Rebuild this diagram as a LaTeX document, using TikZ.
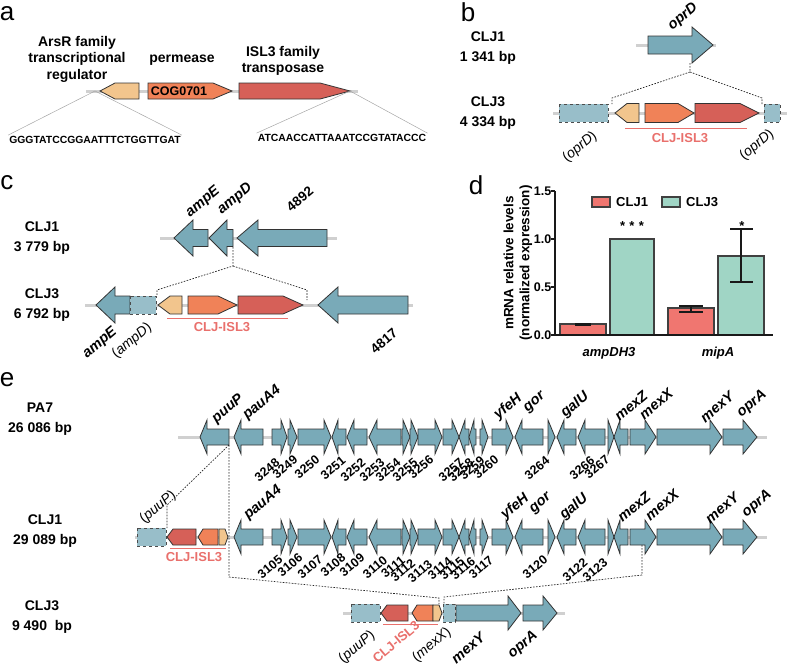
\documentclass[tikz,border=0pt]{standalone}
\usepackage{fontspec}
\setmainfont{Liberation Sans}
\definecolor{genebl}{RGB}{121,170,184}
\definecolor{fragbl}{RGB}{152,190,201}
\definecolor{arsrc}{RGB}{242,197,141}
\definecolor{permc}{RGB}{240,130,88}
\definecolor{tnpc}{RGB}{214,96,88}
\definecolor{islc}{RGB}{233,112,108}
\definecolor{barred}{RGB}{240,118,112}
\definecolor{bargreen}{RGB}{160,213,197}
\definecolor{bbgray}{RGB}{208,208,208}

% gene arrow: style, tail x, head base x, tip x, y, body half, head half
\newcommand{\genearrow}[7]{%
  \draw[#1] ({#2},{#5-#6}) -- ({#3},{#5-#6}) -- ({#3},{#5-#7}) -- ({#4},{#5})
    -- ({#3},{#5+#7}) -- ({#3},{#5+#6}) -- ({#2},{#5+#6}) -- cycle;}

% shared genes of PA7 and CLJ1 (tail/tip/head length)
\def\coregenes{263/234/7, 272/287/6, 288/297/7, 298/331/7, 346/332/6, 367/347/7,
  401/369/8, 402/410/7, 410/418/7, 418/442/7, 443/459/7, 469/459/6, 476/469/5,
  480/488/6, 492/513/7, 543/515/7, 548/555/7, 576/557/7, 605/578/7, 608/614/6,
  628/614/6, 630/656/11, 657/722/12, 723/757/14}

\begin{document}
\begin{tikzpicture}[x=1pt,y=-1pt,
    gene/.style={draw=black!80,fill=genebl,line width=0.8pt,line join=miter},
    arsr/.style={gene,fill=arsrc},
    perm/.style={gene,fill=permc},
    tnp/.style={gene,fill=tnpc},
    frag/.style={draw=black!70,dashed,fill=fragbl,line width=0.6pt},
    backbone/.style={draw=bbgray,line width=3pt},
    link/.style={draw=black!85,line width=0.7pt,dash pattern=on 1.6pt off 1.4pt},
    panel/.style={font=\fontsize{26}{26}\selectfont},
    strain/.style={font=\bfseries\fontsize{14}{19.5}\selectfont,align=center},
    hdr/.style={font=\bfseries\fontsize{14}{16.5}\selectfont,align=center},
    seq/.style={font=\bfseries\fontsize{10.4}{12}\selectfont,inner sep=1pt},
    glab/.style={font=\bfseries\itshape\fontsize{14.5}{14.5}\selectfont,rotate=40},
    numlab/.style={font=\bfseries\fontsize{12.5}{12.5}\selectfont,rotate=40},
    fraglab/.style={font=\fontsize{14}{14}\selectfont,rotate=40},
    isl/.style={text=islc,font=\bfseries\fontsize{13}{13}\selectfont},
    islline/.style={draw=islc,line width=0.8pt},
    axisline/.style={draw=black!90,line width=1.6pt},
    barbox/.style={draw=black!75,line width=1.2pt},
    errbar/.style={draw=black!90,line width=1.2pt},
    ticklab/.style={font=\bfseries\fontsize{12.5}{12.5}\selectfont,anchor=east,inner sep=0.5pt},
    ylab/.style={font=\bfseries\fontsize{13.5}{16}\selectfont,align=center,rotate=90},
    leg/.style={font=\bfseries\fontsize{13}{13}\selectfont,anchor=west,inner sep=0pt},
    catlab/.style={font=\bfseries\itshape\fontsize{13}{13}\selectfont},
    ]
\useasboundingbox (0,0) rectangle (787,667);

% ---------------- panel a
\node[panel] (pa) at (7,14) {a};
\node[hdr] (arsrlab) at (77,59) {ArsR family\\transcriptional\\regulator};
\node[hdr] (permlab) at (182,60) {permease};
\node[hdr] (tnplab) at (283,61) {ISL3 family\\transposase};
\draw[backbone] (86,91) -- (358,91);
\genearrow{arsr}{139}{115}{100}{91}{8}{8}
\genearrow{perm}{148}{213}{232}{91}{8}{8}
\genearrow{tnp}{239}{320}{350}{91}{8}{8}
\node[font=\bfseries\fontsize{12.5}{12.5}\selectfont] (cog) at (179,91) {COG0701};
\node[seq] (seqL) at (95,140) {GGGTATCCGGAATTTCTGGTTGAT};
\node[seq] (seqR) at (342,138) {ATCAACCATTAAATCCGTATACCC};
\coordinate (aL) at (95,91);
\coordinate (aR) at (350,91);
\draw[gray!70,line width=0.5pt] (seqL.north west) -- (aL) -- (seqL.north east);
\draw[gray!70,line width=0.5pt] (seqR.north west) -- (aR) -- (seqR.north east);

% ---------------- panel b
\node[panel] (pb) at (468,12) {b};
\node[strain] (b1) at (488,48) {CLJ1\\1 341 bp};
\node[strain] (b3) at (488,113) {CLJ3\\4 334 bp};
\draw[backbone] (636,45) -- (716,45);
\genearrow{gene}{648}{692}{713}{45}{9}{18}
\node[glab] (oprD1) at (683,17) {oprD};
\draw[backbone] (553,113) -- (787,113);
\draw[frag] (559,104) rectangle (608,122);
\genearrow{arsr}{639}{627}{615}{113}{9.5}{9.5}
\genearrow{perm}{645}{678}{694}{113}{9.5}{9.5}
\genearrow{tnp}{695}{740}{759}{113}{9.5}{9.5}
\draw[frag] (764,104) rectangle (780,122);
\draw[islline] (625,128) -- (747,128);
\node[isl] (islb) at (680,138) {CLJ-ISL3};
\node[fraglab] (oprDl) at (580,147) {(\textit{oprD})};
\node[fraglab] (oprDr) at (757,145) {(\textit{oprD})};
\coordinate (bsrc) at (690,63);
\coordinate (bfork) at (690,72);
\coordinate (bl) at (612,98);
\coordinate (bl2) at (612,104);
\coordinate (br) at (762,98);
\coordinate (br2) at (762,104);
\draw[link] (bsrc) -- (bfork) -- (bl) -- (bl2);
\draw[link] (bfork) -- (br) -- (br2);

% ---------------- panel c
\node[panel] (pc) at (7,183) {c};
\node[strain] (c1) at (42,238) {CLJ1\\3 779 bp};
\node[strain] (c3) at (42,305) {CLJ3\\6 792 bp};
\draw[backbone] (160,238) -- (337,238);
\genearrow{gene}{208}{193}{174}{238}{8.5}{18}
\genearrow{gene}{233}{227}{209}{238}{8.5}{18}
\genearrow{gene}{327}{258}{237}{238}{8.5}{18}
\node[glab] (ampE1) at (203,202) {ampE};
\node[glab] (ampD1) at (235,199) {ampD};
\node[glab,font=\bfseries\fontsize{13.5}{13.5}\selectfont] (g4892) at (300,199) {4892};
\draw[backbone] (85,305) -- (413,305);
\genearrow{gene}{130}{115}{96}{305}{9}{18}
\draw[frag] (130,296) rectangle (156,314);
\genearrow{arsr}{182}{170}{158}{305}{9}{9}
\genearrow{perm}{188}{218}{237}{305}{9}{9}
\genearrow{tnp}{238}{283}{303}{305}{9}{9}
\genearrow{gene}{408}{338}{318}{305}{9}{18}
\draw[islline] (167,318) -- (288,318);
\node[isl] (islc3) at (222,327) {CLJ-ISL3};
\node[glab] (ampE3) at (100,343) {ampE};
\node[fraglab] (ampD3) at (132,341) {(\textit{ampD})};
\node[glab,font=\bfseries\fontsize{13.5}{13.5}\selectfont] (g4817) at (384,341) {4817};
\coordinate (csrc) at (233,247);
\coordinate (cfork) at (233,266);
\coordinate (cl) at (157,290);
\coordinate (cl2) at (157,296);
\coordinate (cr) at (307,290);
\coordinate (cr2) at (307,300);
\draw[link] (csrc) -- (cfork) -- (cl) -- (cl2);
\draw[link] (cfork) -- (cr) -- (cr2);

% ---------------- panel d
\node[panel] (pd) at (476,185) {d};
\node[ylab] (ylabel) at (518,263) {mRNA relative levels\\(normalized expression)};
\draw[barbox,fill=barred] (560,335) rectangle (606,324);
\draw[barbox,fill=bargreen] (610,335) rectangle (654,239);
\draw[barbox,fill=barred] (668,335) rectangle (714,308);
\draw[barbox,fill=bargreen] (718,335) rectangle (764,256);
\draw[axisline] (555,191) -- (555,335) -- (773,335);
\foreach \v/\yy in {0.0/335, 0.5/287, 1.0/239, 1.5/191} {
  \draw[axisline] (551,\yy) -- (555,\yy);
  \node[ticklab] (t\yy) at (552,\yy) {\v};
}
\draw[errbar,line width=3pt] (575,324) -- (591,324);
\draw[errbar] (679,306) -- (703,306) (691,306) -- (691,312) (679,312) -- (703,312);
\draw[errbar] (730,229) -- (753,229) (741,229) -- (741,282) (730,282) -- (753,282);
\node[font=\bfseries\fontsize{13}{13}\selectfont] (s1) at (632,226) {*\,\,*\,\,*};
\node[font=\bfseries\fontsize{13}{13}\selectfont] (s2) at (742,226) {*};
\draw[barbox,fill=barred] (592,197) rectangle (610,207);
\node[leg] (l1) at (616,202) {CLJ1};
\draw[barbox,fill=bargreen] (662,197) rectangle (680,207);
\node[leg] (l3) at (686,202) {CLJ3};
\node[catlab] (cat1) at (609,353) {ampDH3};
\node[catlab] (cat2) at (718,353) {mipA};

% ---------------- panel e
\node[panel] (pe) at (7,380) {e};
\node[strain] (e0) at (40,419) {PA7\\26 086 bp};
\node[strain] (e1) at (45,531) {CLJ1\\29 089 bp};
\node[strain] (e3) at (42,617) {CLJ3\\9 490\ \ bp};
\draw[backbone] (178,437) -- (767,437);
\draw[backbone] (135,537) -- (767,537);
\genearrow{gene}{229}{207}{200}{437}{8}{17}
\draw[frag] (137,528) rectangle (166,546);
\genearrow{tnp}{196}{173}{167}{537}{8}{8}
\genearrow{perm}{218}{203}{198}{537}{8}{8}
\genearrow{arsr}{219}{225}{228}{537}{8}{8}
\foreach \ry in {437,537} {
  \foreach \gta/\gtp/\ghd in \coregenes {
    \pgfmathsetmacro\gbs{\gtp-sign(\gtp-\gta)*min(\ghd,abs(\gtp-\gta))}
    \genearrow{gene}{\gta}{\gbs}{\gtp}{\ry}{8}{17}
  }
}
\foreach \lx/\ly/\lt in {228/409/puuP, 262/403/pauA4, 508/407/yfeH, 535/403/gor,
    575/405/galU, 631/406/mexZ, 656/404/mexX, 717/407/mexY, 752/404/oprA}
  \node[glab] (pa-\lt) at (\lx,\ly) {\lt};
\foreach \lx/\ly/\lt in {263/503/pauA4, 515/507/yfeH, 541/504/gor, 574/507/galU,
    634/507/mexZ, 662/505/mexX, 722/508/mexY, 757/504/oprA}
  \node[glab] (c1-\lt) at (\lx,\ly) {\lt};
\foreach \lx/\ly/\lt in {267/470/3248, 285/467/3249, 307/467/3250, 333/468/3251,
    353/470/3252, 372/470/3253, 388/470/3254, 405/470/3255, 421/467/3256,
    451/470/3257, 461/470/3258, 472/468/3259, 486/467/3260, 537/468/3264,
    582/468/3266, 597/467/3267}
  \node[numlab] (n\lt) at (\lx,\ly) {\lt};
\foreach \lx/\ly/\lt in {270/567/3105, 290/565/3106, 310/567/3107, 333/565/3108,
    352/565/3109, 375/567/3110, 393/567/3111, 403/570/3112, 420/571/3113,
    440/568/3114, 452/568/3115, 463/568/3116, 481/567/3117, 535/567/3120,
    575/570/3122, 595/570/3123}
  \node[numlab] (n\lt) at (\lx,\ly) {\lt};
\draw[islline] (170,548) -- (226,548);
\node[isl] (isle1) at (194,557) {CLJ-ISL3};
\node[fraglab] (puuP1) at (158,507) {(\textit{puuP})};
% CLJ3 row
\draw[backbone] (343,613) -- (565,613);
\draw[frag] (351,604) rectangle (380,622);
\genearrow{tnp}{408}{387}{381}{613}{8}{8}
\genearrow{perm}{433}{417}{412}{613}{8}{8}
\genearrow{arsr}{433}{439}{442}{613}{8}{8}
\draw[frag] (443,604) rectangle (455,622);
\genearrow{gene}{456}{508}{521}{613}{8}{17}
\genearrow{gene}{523}{543}{557}{613}{8}{17}
\draw[islline] (383,624) -- (438,624);
\node[isl,rotate=40] (isle3) at (396,642) {CLJ-ISL3};
\node[fraglab] (puuP3) at (357,647) {(\textit{puuP})};
\node[fraglab] (mexX3) at (432,645) {(\textit{mexX})};
\node[glab] (mexY3) at (468,648) {mexY};
\node[glab] (oprA3) at (523,645) {oprA};
% links between rows
\coordinate (ep) at (229,445);
\coordinate (epl) at (167,505);
\coordinate (epl2) at (167,528);
\coordinate (ev) at (229,577);
\coordinate (ed) at (439,598);
\coordinate (ed2) at (439,604);
\coordinate (mxs) at (642,545);
\coordinate (mxv) at (642,575);
\coordinate (mxd) at (444,597);
\coordinate (mxd2) at (444,604);
\draw[link] (ep) -- (epl) -- (epl2);
\draw[link] (ep) -- (ev) -- (ed) -- (ed2);
\draw[link] (mxs) -- (mxv) -- (mxd) -- (mxd2);
\end{tikzpicture}
\end{document}
